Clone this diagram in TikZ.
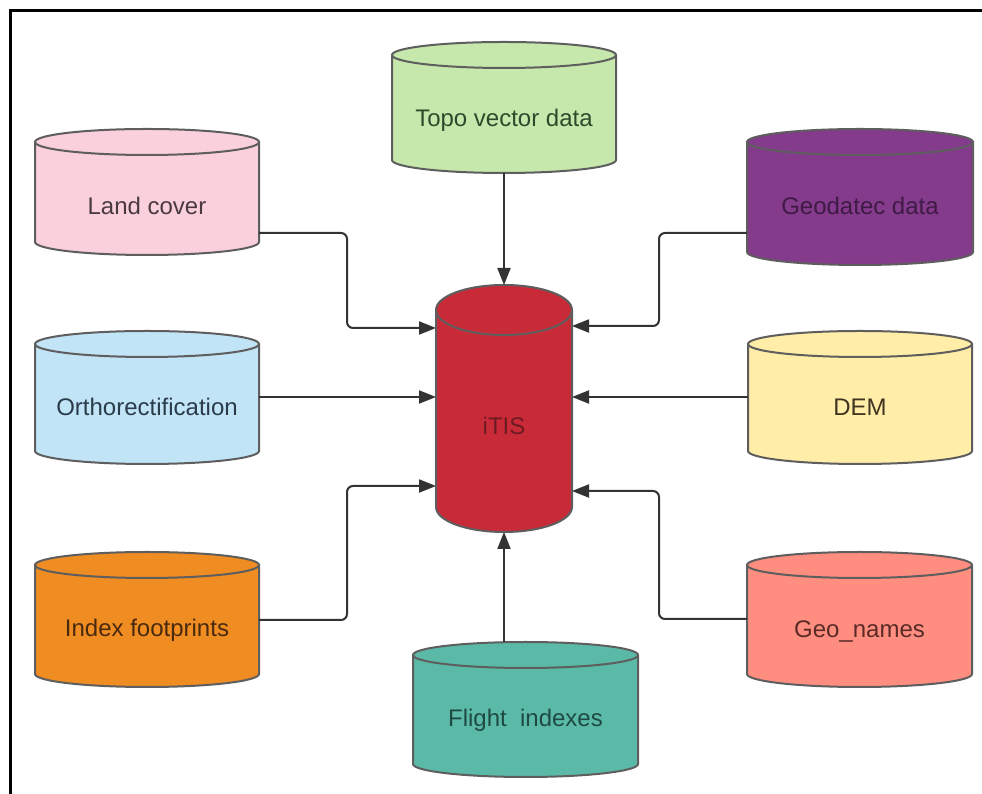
\documentclass[tikz,border=0pt]{standalone}
\usepackage{fontspec}
\setmainfont{Liberation Sans}
\usetikzlibrary{arrows.meta}
\definecolor{pinkfill}{HTML}{F9D0DC}
\definecolor{greenfill}{HTML}{C7E8AC}
\definecolor{purplefill}{HTML}{843B8B}
\definecolor{redfill}{HTML}{C92A38}
\definecolor{bluefill}{HTML}{C2E4F7}
\definecolor{yellowfill}{HTML}{FFEDA8}
\definecolor{orangefill}{HTML}{EF8C22}
\definecolor{tealfill}{HTML}{5BBAA7}
\definecolor{salmonfill}{HTML}{FF8E80}
\definecolor{landtext}{HTML}{4A3A40}
\definecolor{topotext}{HTML}{2F4A2A}
\definecolor{geotext}{HTML}{3E1A45}
\definecolor{itistext}{HTML}{6E1A22}
\definecolor{orthotext}{HTML}{2A3C4A}
\definecolor{demtext}{HTML}{3F3520}
\definecolor{indextext}{HTML}{4A2A0E}
\definecolor{flighttext}{HTML}{1E4A42}
\definecolor{gntext}{HTML}{5A2A26}
\definecolor{cylstroke}{HTML}{5E5E5E}
\definecolor{connline}{HTML}{333333}
\tikzset{
  cylline/.style={draw=cylstroke, line width=2pt},
  cyltext/.style={font=\fontsize{24}{28}\selectfont, inner sep=0pt},
  conn/.style={draw=connline, line width=2pt, rounded corners=6pt, -{Triangle[length=17pt,width=13pt]}},
  frameline/.style={draw=black, line width=3pt}
}
\def\cylry{13}
% #1 name, #2 x1, #3 x2, #4 ytop, #5 ybot (pixels, downward), #6 fill, #7 text colour, #8 text, #9 baseline
\newcommand\dbcyl[9]{%
  \pgfmathsetmacro\cylrx{(#3-#2)/2}%
  \pgfmathsetmacro\cylcx{(#3+#2)/2}%
  \pgfmathsetmacro\cylyt{794-#4-\cylry}%
  \pgfmathsetmacro\cylyb{794-#5+\cylry}%
  \pgfmathsetmacro\cylym{794-(#4+#5)/2}%
  \pgfmathsetmacro\cylh{#5-#4}%
  \pgfmathsetmacro\cylw{#3-#2}%
  \filldraw[cylline, fill=#6] (#2,\cylyt) -- (#2,\cylyb)
    arc[start angle=180, end angle=360, x radius=\cylrx pt, y radius=\cylry pt]
    -- (#3,\cylyt)
    arc[start angle=0, end angle=180, x radius=\cylrx pt, y radius=\cylry pt] -- cycle;
  \draw[cylline] (#2,\cylyt) arc[start angle=180, end angle=360, x radius=\cylrx pt, y radius=\cylry pt];
  \node[inner sep=0pt, outer sep=0pt, minimum width=\cylw pt, minimum height=\cylh pt] (#1) at (\cylcx,\cylym) {};
  \node[cyltext, text=#7, anchor=base] (#1-label) at (\cylcx, 794-#9) {#8};
}
\begin{document}
\begin{tikzpicture}[x=1pt, y=1pt]
\useasboundingbox (0,0) rectangle (982,794);
\fill[white] (0,0) rectangle (982,794);
% frame
\draw[frameline] (10,0) -- (10,783) -- (982,783);
% cylinders
\dbcyl{lc}{35}{259}{129}{255}{pinkfill}{landtext}{Land cover}{215}
\dbcyl{topo}{392}{616}{42}{173}{greenfill}{topotext}{Topo vector data}{127}
\dbcyl{gd}{747}{973}{129}{265}{purplefill}{geotext}{Geodatec data}{215}
\dbcyl{or}{35}{259}{331}{464}{bluefill}{orthotext}{Orthorectification}{416}
\dbcyl{dem}{748}{972}{331}{464}{yellowfill}{demtext}{DEM}{416}
\dbcyl{ix}{35}{259}{552}{687}{orangefill}{indextext}{Index footprints}{637}
\dbcyl{fl}{413}{638}{642}{777}{tealfill}{flighttext}{Flight\ \ indexes}{727}
\dbcyl{gn}{747}{972}{552}{687}{salmonfill}{gntext}{Geo\_names}{638}
\def\cylry{25}
\dbcyl{itis}{436}{572}{285}{532}{redfill}{itistext}{iTIS}{435}
% connectors
\draw[conn] (lc.east |- 0,561) -| (347,466) -- (itis.west |- 0,466);
\draw[conn] (or.east |- 0,397) -- (itis.west |- 0,397);
\draw[conn] (ix.east |- 0,174) -| (347,308) -- (itis.west |- 0,308);
\draw[conn] (topo.south) -- (itis.north);
\draw[conn] (gd.west |- 0,561) -| (659,468) -- (itis.east |- 0,468);
\draw[conn] (dem.west |- 0,397) -- (itis.east |- 0,397);
\draw[conn] (gn.west |- 0,175) -| (659,303) -- (itis.east |- 0,303);
\draw[conn] (itis.south |- fl.north) -- (itis.south);
\end{tikzpicture}
\end{document}
